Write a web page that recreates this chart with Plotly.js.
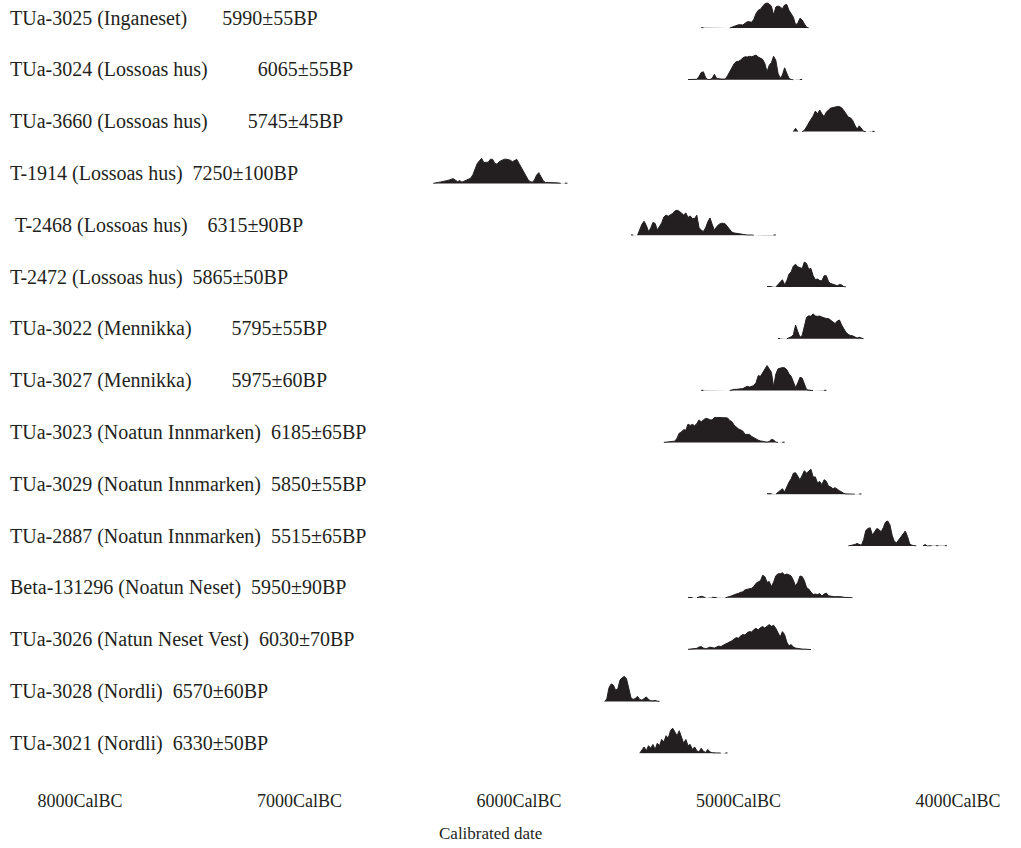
<!DOCTYPE html>
<html><head><meta charset="utf-8">
<script src="https://cdn.plot.ly/plotly-3.0.1.min.js"></script>
<style>html,body{margin:0;padding:0;background:#fff}</style>
</head><body><div id="chart" style="width:1021px;height:848px"></div>
<script>
// Sample labels (top to bottom)
const labels = [
  "TUa-3025 (Inganeset)\u00a0\u00a0\u00a0\u00a0\u00a0\u00a0\u00a05990\u00b155BP",
  "TUa-3024 (Lossoas hus)\u00a0\u00a0\u00a0\u00a0\u00a0\u00a0\u00a0\u00a0\u00a0\u00a06065\u00b155BP",
  "TUa-3660 (Lossoas hus)\u00a0\u00a0\u00a0\u00a0\u00a0\u00a0\u00a0\u00a05745\u00b145BP",
  "T-1914 (Lossoas hus)\u00a0\u00a07250\u00b1100BP",
  "\u00a0T-2468 (Lossoas hus)\u00a0\u00a0\u00a0\u00a06315\u00b190BP",
  "T-2472 (Lossoas hus)\u00a0\u00a05865\u00b150BP",
  "TUa-3022 (Mennikka)\u00a0\u00a0\u00a0\u00a0\u00a0\u00a0\u00a0\u00a05795\u00b155BP",
  "TUa-3027 (Mennikka)\u00a0\u00a0\u00a0\u00a0\u00a0\u00a0\u00a0\u00a05975\u00b160BP",
  "TUa-3023 (Noatun Innmarken)\u00a0\u00a06185\u00b165BP",
  "TUa-3029 (Noatun Innmarken)\u00a0\u00a05850\u00b155BP",
  "TUa-2887 (Noatun Innmarken)\u00a0\u00a05515\u00b165BP",
  "Beta-131296 (Noatun Neset)\u00a0\u00a05950\u00b190BP",
  "TUa-3026 (Natun Neset Vest)\u00a0\u00a06030\u00b170BP",
  "TUa-3028 (Nordli)\u00a0\u00a06570\u00b160BP",
  "TUa-3021 (Nordli)\u00a0\u00a06330\u00b150BP"
];

// First calendar year (cal BC) of each probability series; series sampled every 10 years
const startYears = [5170, 5230, 4750, 6390, 5490, 4870, 4820, 5170, 5340, 4870, 4500, 5230, 5230, 5610, 5450];
const yearStep = 10;

// Relative probability (0-100); null = no probability drawn
const dens_TUa3025 = [1,1,null,null,null,null,null,null,null,null,null,null,null,0,4,8,10,13,13,12,19,25,25,23,35,58,71,75,87,97,100,96,87,52,84,88,84,77,92,94,71,56,43,13,19,39,32,17,3,0];
const dens_TUa3024 = [1,1,1,1,2,13,29,32,9,1,1,6,22,6,3,3,3,3,16,35,48,64,73,74,79,88,92,91,94,92,97,99,91,88,82,65,32,58,69,94,78,26,6,19,48,26,6,1,0,null,null,1,1];
const dens_TUa3660 = [0,13,0,null,0,5,19,36,49,62,82,71,86,71,60,78,88,94,96,99,100,100,95,84,71,58,55,45,26,10,23,13,1,0,null,null,1,1];
const dens_T1914 = [0,3,4,5,8,9,11,13,17,19,13,7,11,5,9,13,16,21,35,60,80,91,100,83,84,85,97,96,80,77,87,93,96,97,96,93,87,91,96,80,64,45,27,17,7,5,13,33,43,27,11,4,4,3,3,3,3,2,0,null,1,1];
const dens_T2468 = [1,1,null,0,20,44,56,39,15,28,51,47,21,33,49,73,80,76,80,87,97,100,96,88,81,89,71,77,67,67,80,31,20,15,29,53,69,44,20,33,43,47,48,45,33,20,12,9,7,6,5,4,2,1,1,1,0,null,null,null,null,null,null,null,null,1,1];
const dens_T2472 = [2,1,2,null,0,9,22,29,9,25,51,61,84,91,81,78,74,100,94,71,74,45,30,32,26,25,45,45,22,14,10,6,5,10,8,1,0];
const dens_TUa3022 = [1,1,null,null,0,4,8,16,55,29,6,13,55,86,92,90,100,91,90,91,87,83,81,81,74,69,61,71,75,55,39,25,18,13,12,6,3,6,3,0];
const dens_TUa3027 = [1,1,null,null,null,null,null,null,null,null,null,null,null,0,3,5,5,6,6,8,13,17,14,16,20,32,60,57,72,88,100,87,73,15,66,87,91,92,91,84,67,57,35,12,30,53,50,27,4,2,1,0,null,null,null,null,1,1];
const dens_TUa3023 = [0,1,1,2,3,5,17,37,42,51,49,73,68,72,67,75,90,82,90,96,95,90,90,100,100,100,100,100,99,98,88,83,69,60,54,50,45,32,32,32,24,18,13,9,6,5,4,1,4,12,10,1,0,null,1,1];
const dens_TUa3029 = [2,1,2,null,0,8,18,22,9,32,48,62,84,86,69,58,75,94,84,94,100,69,69,45,51,38,58,52,32,29,22,26,19,14,9,3,1,1,1,1,0,null,1,1];
const dens_TUa2887 = [0,1,3,6,10,6,3,25,62,70,73,44,55,70,66,57,74,96,100,84,43,18,13,26,36,52,60,38,8,3,1,0,null,null,0,6,0,1,1,null,1,1,null,null,1,1];
const dens_Beta131296 = [1,1,1,null,0,3,6,4,0,null,null,2,3,1,null,null,null,0,2,4,8,12,14,18,22,24,32,35,37,38,45,58,64,68,90,85,62,65,45,63,88,96,96,100,92,95,92,87,70,47,62,87,85,69,41,35,23,13,15,13,17,7,15,19,8,6,4,4,5,6,4,2,1,0,0,0];
const dens_TUa3026 = [1,2,3,2,5,10,12,6,4,6,10,8,6,10,14,12,18,22,26,30,35,42,48,45,55,60,58,68,72,70,80,85,78,88,92,86,95,100,93,97,85,70,50,72,60,30,15,20,10,6,4,3,2,2,1,1,0];
const dens_TUa3028 = [0,10,55,70,65,45,50,85,95,100,90,55,15,8,12,20,8,5,10,18,8,3,2,4,1,0];
const dens_TUa3021 = [0,15,25,10,30,20,35,15,40,30,55,45,70,60,90,100,85,70,90,60,40,55,30,35,15,25,10,5,20,8,3,15,5,2,3,1,1,0,null,1,1];

const densities = [dens_TUa3025, dens_TUa3024, dens_TUa3660, dens_T1914, dens_T2468, dens_T2472,
  dens_TUa3022, dens_TUa3027, dens_TUa3023, dens_TUa3029, dens_TUa2887, dens_Beta131296,
  dens_TUa3026, dens_TUa3028, dens_TUa3021];

const tickYears = [8000, 7000, 6000, 5000, 4000];
const tickLabels = ["8000CalBC", "7000CalBC", "6000CalBC", "5000CalBC", "4000CalBC"];
const axisTitle = "Calibrated date";

// ---- layout ----
const W = 1021, H = 848;
const M = {l: 0, r: 0, t: 0, b: 60};
const plotH = H - M.t - M.b;
const firstBase = 28, rowGap = 51.8, peakPx = 26;
const ink = "#231f20";
const serif = "Liberation Serif, Times New Roman, serif";

const traces = [];
const annotations = [];
const layout = {
  width: W, height: H, margin: M,
  paper_bgcolor: "#fff", plot_bgcolor: "rgba(0,0,0,0)",
  showlegend: false,
  xaxis: {
    range: [8364.5, 3713], anchor: "free", position: 0,
    showgrid: false, zeroline: false, showline: false, ticks: "",
    tickmode: "array", tickvals: tickYears, ticktext: tickLabels,
    tickfont: {family: serif, size: 18, color: ink}, fixedrange: true
  }
};

densities.forEach((d, i) => {
  const x = d.map((_, j) => startYears[i] - j * yearStep);
  const axId = i === 0 ? "" : String(i + 1);
  traces.push({
    type: "scatter", mode: "lines", x: x, y: d,
    xaxis: "x", yaxis: "y" + axId,
    fill: "tozeroy", fillcolor: ink,
    line: {color: ink, width: 1}, connectgaps: false,
    hoverinfo: "skip", showlegend: false
  });
  const base = firstBase + i * rowGap;
  layout["yaxis" + axId] = {
    domain: [1 - (base + 0.5) / plotH, 1 - (base - peakPx) / plotH],
    range: [-2, 104], visible: false, fixedrange: true, anchor: "x"
  };
  annotations.push({
    text: labels[i], xref: "paper", yref: "paper",
    x: 8 / W, y: 1 - (base - 10) / plotH,
    xanchor: "left", yanchor: "middle", showarrow: false,
    font: {family: serif, size: 20, color: ink}
  });
});

annotations.push({
  text: axisTitle, xref: "paper", yref: "paper",
  x: 490 / W, y: -45 / plotH, xanchor: "center", yanchor: "middle",
  showarrow: false, font: {family: serif, size: 17, color: ink}
});
layout.annotations = annotations;

Plotly.newPlot("chart", traces, layout, {displayModeBar: false, staticPlot: true});
</script>
</body></html>
